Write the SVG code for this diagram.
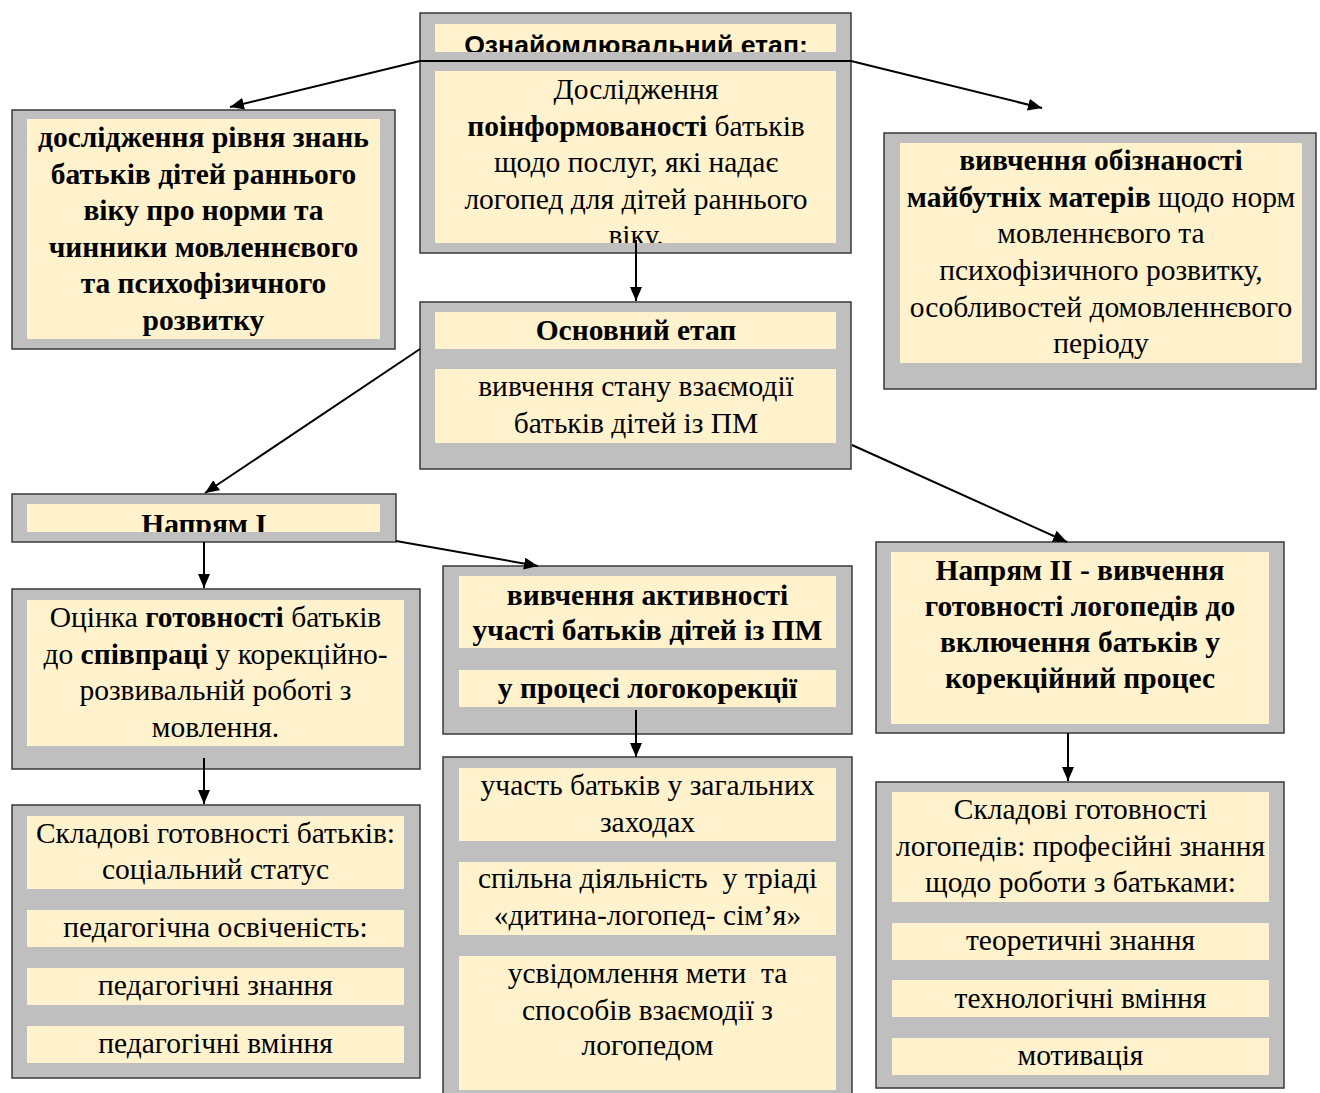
<svg xmlns="http://www.w3.org/2000/svg" width="1320" height="1093" viewBox="0 0 1320 1093">
<style>
.box{fill:#BFBFBF;stroke:#3a3a3a;stroke-width:1.5}
.pan{fill:#FFF2CC}
text{font-family:"Liberation Serif","Times New Roman",serif;font-size:29.5px;fill:#000;text-anchor:middle}
.b{font-weight:bold}
.sans{font-family:"Liberation Sans",Arial,sans-serif;font-size:26.6px}
.con{stroke:#000;stroke-width:2;fill:none}
</style>
<defs>
<marker id="ah" markerUnits="userSpaceOnUse" markerWidth="14" markerHeight="12" refX="14" refY="6" orient="auto">
<path d="M0,0 L14,6 L0,12 z" fill="#000"/>
</marker>
<clipPath id="cA1"><rect x="435" y="24" width="401" height="28"/></clipPath>
<clipPath id="cA2"><rect x="435" y="71" width="401" height="172"/></clipPath>
<clipPath id="cE"><rect x="27" y="504" width="353" height="28"/></clipPath>
</defs>
<rect x="0" y="0" width="1320" height="1093" fill="#fff"/>

<g id="nodeA">
<rect class="box" x="420" y="13" width="431" height="240"/>
<rect class="pan" x="435" y="24" width="401" height="28"/>
<rect class="pan" x="435" y="71" width="401" height="172"/>
<text class="sans b" x="636" y="54" clip-path="url(#cA1)">Ознайомлювальний етап:</text>
<g clip-path="url(#cA2)">
<text x="636" y="99">Дослідження</text>
<text x="636" y="136"><tspan class="b">поінформованості</tspan> батьків</text>
<text x="636" y="172">щодо послуг, які надає</text>
<text x="636" y="209">логопед для дітей раннього</text>
<text x="636" y="245">віку.</text>
</g>
</g>

<g id="nodeB">
<rect class="box" x="12" y="110" width="383" height="239"/>
<rect class="pan" x="27" y="119" width="353" height="220"/>
<text class="b" x="203.5" y="147">дослідження рівня знань</text>
<text class="b" x="203.5" y="184">батьків дітей раннього</text>
<text class="b" x="203.5" y="220">віку про норми та</text>
<text class="b" x="203.5" y="257">чинники мовленнєвого</text>
<text class="b" x="203.5" y="293">та психофізичного</text>
<text class="b" x="203.5" y="330">розвитку</text>
</g>

<g id="nodeC">
<rect class="box" x="884" y="133" width="432" height="256"/>
<rect class="pan" x="900" y="143" width="402" height="220"/>
<text class="b" x="1101" y="170">вивчення обізнаності</text>
<text x="1101" y="207"><tspan class="b">майбутніх матерів</tspan> щодо норм</text>
<text x="1101" y="243">мовленнєвого та</text>
<text x="1101" y="280">психофізичного розвитку,</text>
<text x="1101" y="317">особливостей домовленнєвого</text>
<text x="1101" y="353">періоду</text>
</g>

<g id="nodeD">
<rect class="box" x="420" y="302" width="431" height="167"/>
<rect class="pan" x="435" y="312" width="401" height="37"/>
<rect class="pan" x="435" y="369" width="401" height="74"/>
<text class="b" x="636" y="340">Основний етап</text>
<text x="636" y="396">вивчення стану взаємодії</text>
<text x="636" y="433">батьків дітей із ПМ</text>
</g>

<g id="nodeE">
<rect class="box" x="12" y="494" width="384" height="48"/>
<rect class="pan" x="27" y="504" width="353" height="28"/>
<text class="b" x="204" y="534" clip-path="url(#cE)">Напрям I</text>
</g>

<g id="nodeF">
<rect class="box" x="12" y="589" width="408" height="180"/>
<rect class="pan" x="27" y="600" width="377" height="146"/>
<text x="215.5" y="627">Оцінка <tspan class="b">готовності</tspan> батьків</text>
<text x="215.5" y="664">до <tspan class="b">співпраці</tspan> у корекційно-</text>
<text x="215.5" y="700">розвивальній роботі з</text>
<text x="215.5" y="737">мовлення.</text>
</g>

<g id="nodeG">
<rect class="box" x="12" y="805" width="408" height="273"/>
<rect class="pan" x="27" y="816" width="377" height="73"/>
<rect class="pan" x="27" y="910" width="377" height="37"/>
<rect class="pan" x="27" y="968" width="377" height="37"/>
<rect class="pan" x="27" y="1026" width="377" height="37"/>
<text x="215.5" y="843">Складові готовності батьків:</text>
<text x="215.5" y="879">соціальний статус</text>
<text x="215.5" y="937">педагогічна освіченість:</text>
<text x="215.5" y="995">педагогічні знання</text>
<text x="215.5" y="1053">педагогічні вміння</text>
</g>

<g id="nodeH">
<rect class="box" x="443" y="566" width="409" height="168"/>
<rect class="pan" x="459" y="576" width="377" height="72"/>
<rect class="pan" x="459" y="670" width="377" height="37"/>
<text class="b" x="647.5" y="605">вивчення активності</text>
<text class="b" x="647.5" y="640">участі батьків дітей із ПМ</text>
<text class="b" x="647.5" y="698">у процесі логокорекції</text>
</g>

<g id="nodeI">
<rect class="box" x="443" y="757" width="409" height="345"/>
<rect class="pan" x="459" y="768" width="377" height="73"/>
<rect class="pan" x="459" y="862" width="377" height="73"/>
<rect class="pan" x="459" y="956" width="377" height="134"/>
<text x="647.5" y="795">участь батьків у загальних</text>
<text x="647.5" y="832">заходах</text>
<text x="647.5" y="888" xml:space="preserve">спільна діяльність  у тріаді</text>
<text x="647.5" y="925">«дитина-логопед- сім’я»</text>
<text x="647.5" y="983" xml:space="preserve">усвідомлення мети  та</text>
<text x="647.5" y="1020">способів взаємодії з</text>
<text x="647.5" y="1055">логопедом</text>
</g>

<g id="nodeJ">
<rect class="box" x="876" y="542" width="408" height="191"/>
<rect class="pan" x="891" y="552" width="378" height="172"/>
<text class="b" x="1080" y="580">Напрям II - вивчення</text>
<text class="b" x="1080" y="616">готовності логопедів до</text>
<text class="b" x="1080" y="652">включення батьків у</text>
<text class="b" x="1080" y="688">корекційний процес</text>
</g>

<g id="nodeK">
<rect class="box" x="876" y="782" width="408" height="306"/>
<rect class="pan" x="892" y="792" width="377" height="110"/>
<rect class="pan" x="892" y="923" width="377" height="37"/>
<rect class="pan" x="892" y="980" width="377" height="37"/>
<rect class="pan" x="892" y="1038" width="377" height="37"/>
<text x="1080.5" y="819">Складові готовності</text>
<text x="1080.5" y="856">логопедів: професійні знання</text>
<text x="1080.5" y="892">щодо роботи з батьками:</text>
<text x="1080.5" y="950">теоретичні знання</text>
<text x="1080.5" y="1008">технологічні вміння</text>
<text x="1080.5" y="1065">мотивація</text>
</g>

<g id="connectors">
<line class="con" x1="420" y1="61" x2="851" y2="61"/>
<line class="con" x1="420" y1="61" x2="230" y2="107" marker-end="url(#ah)"/>
<line class="con" x1="851" y1="61" x2="1042" y2="108" marker-end="url(#ah)"/>
<line class="con" x1="636" y1="240" x2="636" y2="301" marker-end="url(#ah)"/>
<line class="con" x1="420" y1="349" x2="205" y2="493" marker-end="url(#ah)"/>
<line class="con" x1="852" y1="445" x2="1067" y2="542" marker-end="url(#ah)"/>
<line class="con" x1="204" y1="542" x2="204" y2="588" marker-end="url(#ah)"/>
<line class="con" x1="396" y1="541" x2="538" y2="566" marker-end="url(#ah)"/>
<line class="con" x1="204" y1="758" x2="204" y2="804" marker-end="url(#ah)"/>
<line class="con" x1="636" y1="710" x2="636" y2="757" marker-end="url(#ah)"/>
<line class="con" x1="1068" y1="733" x2="1068" y2="781" marker-end="url(#ah)"/>
</g>
</svg>
